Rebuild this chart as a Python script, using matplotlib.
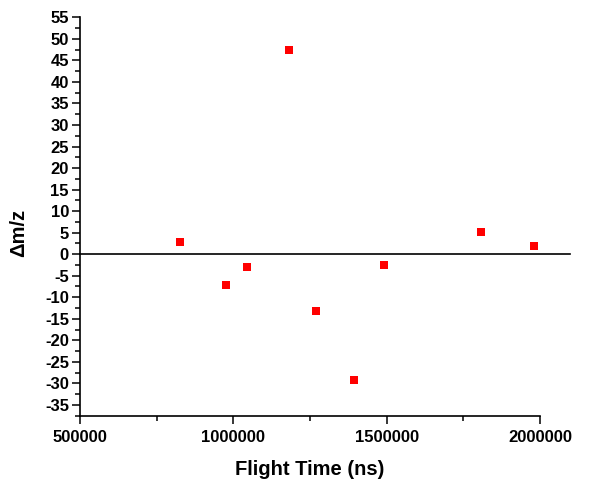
import matplotlib
matplotlib.use('Agg')
import matplotlib.pyplot as plt
from matplotlib.ticker import MultipleLocator, FormatStrFormatter

plt.rcParams['font.family'] = ['Liberation Sans', 'DejaVu Sans']
plt.rcParams['axes.unicode_minus'] = False

# flight time (ns) vs mass deviation
flight_time = [826000, 976000, 1044500, 1181500, 1270500, 1393500, 1490000, 1808500, 1980500]
delta_mz = [2.9, -7.1, -3.0, 47.3, -13.2, -29.2, -2.4, 5.2, 1.9]

fig = plt.figure(figsize=(6.14, 4.93), dpi=100)
ax = fig.add_axes([0.1303, 0.1568, 0.7492, 0.8081])

ax.plot(flight_time, delta_mz, 's', color='#ff0000', markersize=6.2, markeredgewidth=0, zorder=3)
# zero reference line, runs a bit past the right end of the axis
ax.plot([500000, 2098000], [0, 0], color='black', lw=1.2, clip_on=False, zorder=2)

ax.set_xlim(500000, 2000000)
ax.set_ylim(-37.5, 55)
ax.xaxis.set_major_locator(MultipleLocator(500000))
ax.xaxis.set_minor_locator(MultipleLocator(250000))
ax.xaxis.set_major_formatter(FormatStrFormatter('%d'))
ax.yaxis.set_major_locator(MultipleLocator(5))
ax.yaxis.set_minor_locator(MultipleLocator(2.5))
ax.yaxis.set_major_formatter(FormatStrFormatter('%d'))

for s in ['top', 'right']:
	ax.spines[s].set_visible(False)
for s in ['left', 'bottom']:
	ax.spines[s].set_linewidth(1.2)

ax.tick_params(which='major', direction='out', length=6, width=1.1, labelsize=12, pad=2)
ax.tick_params(axis='x', which='major', pad=4)
ax.tick_params(which='minor', direction='out', length=3.5, width=1.1)
for lab in ax.get_xticklabels() + ax.get_yticklabels():
	lab.set_fontweight('bold')

ax.set_xlabel('Flight Time (ns)', fontsize=14.5, fontweight='bold')
ax.set_ylabel('\u0394m/z', fontsize=14.5, fontweight='bold')
ax.xaxis.set_label_coords(0.5, -0.135)
ax.yaxis.set_label_coords(-0.133, 0.459)
ax.xaxis.label.set_va('center')
ax.yaxis.label.set_va('center')

fig.savefig('out.png', dpi=100)
